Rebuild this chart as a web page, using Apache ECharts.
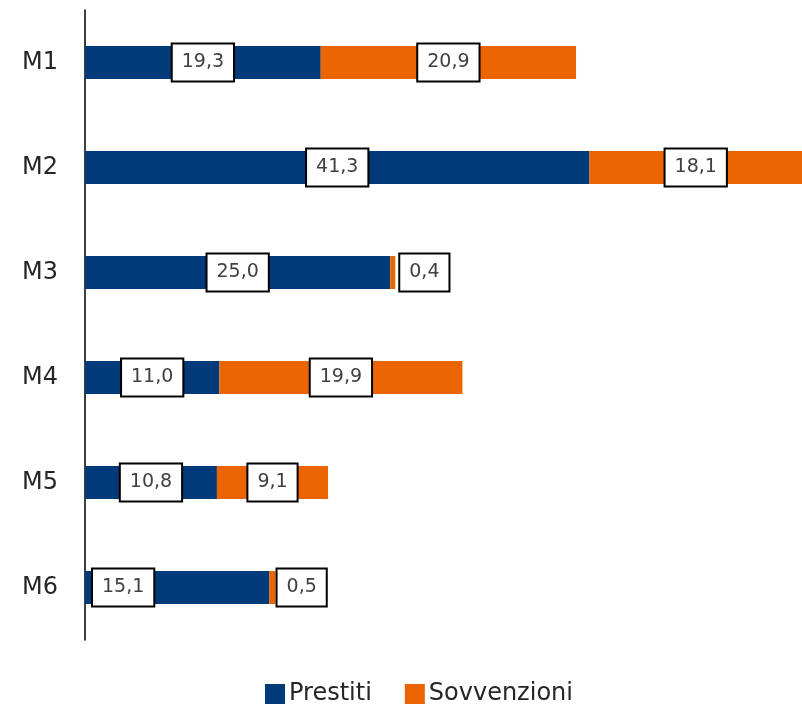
<!DOCTYPE html>
<html>
<head>
<meta charset="utf-8">
<script src="https://cdn.jsdelivr.net/npm/echarts@6/dist/echarts.min.js"></script>
<style>
  html, body { margin: 0; padding: 0; background: #fff; }
  #chart { width: 802px; height: 705px; }
</style>
</head>
<body>
<div id="chart"></div>
<script>
// Misure M1–M6: ripartizione tra prestiti e sovvenzioni
var categories = ['M1', 'M2', 'M3', 'M4', 'M5', 'M6'];
var prestiti = [19.3, 41.3, 25.0, 11.0, 10.8, 15.1];
var sovvenzioni = [20.9, 18.1, 0.4, 19.9, 9.1, 0.5];
var seriesNames = ['Prestiti', 'Sovvenzioni'];

var FONT = '"DejaVu Sans", "Noto Sans", sans-serif';
var BLUE = '#003A78';
var ORANGE = '#EA6400';

function fmt(v) { return v.toFixed(1).replace('.', ','); }

var boxLabel = {
  show: true,
  position: 'inside',
  color: '#404040',
  fontFamily: FONT,
  fontSize: 19,
  lineHeight: 24,
  backgroundColor: '#fff',
  borderColor: '#000',
  borderWidth: 2,
  padding: [6, 9],
  formatter: function (p) { return fmt(p.value); }
};

// Small slices get their label outside the bar; M6 loans label sits near the axis
function prestitiData() {
  return prestiti.map(function (v, i) {
    var item = { value: v };
    if (categories[i] === 'M6') {
      item.label = { position: 'insideLeft', distance: 8 };
    }
    return item;
  });
}
function sovvenzioniData() {
  return sovvenzioni.map(function (v, i) {
    var item = { value: v };
    if (v < 2) {
      item.label = { position: 'right', distance: categories[i] === 'M3' ? 5 : 2 };
    }
    return item;
  });
}

var chart = echarts.init(document.getElementById('chart'), null, { renderer: 'canvas' });
chart.setOption({
  animation: false,
  // the value scale ends at the right edge, so the longest bar is cut there
  grid: { left: 85, right: 0, top: 10, height: 630, containLabel: false },
  legend: {
    data: seriesNames,
    top: 677,
    left: 260,
    icon: 'rect',
    itemWidth: 20,
    itemHeight: 20,
    itemGap: 33,
    textStyle: { fontFamily: FONT, fontSize: 24, color: '#262626', padding: [0, 0, 0, -1] }
  },
  xAxis: {
    type: 'value',
    min: 0,
    max: 58.7,
    show: false
  },
  yAxis: {
    type: 'category',
    data: categories,
    inverse: true,
    axisLine: { show: true, lineStyle: { color: '#000', width: 1.5 } },
    axisTick: { show: false },
    axisLabel: { fontFamily: FONT, fontSize: 24, color: '#262626', margin: 27 },
    splitLine: { show: false }
  },
  series: [
    {
      name: seriesNames[0],
      type: 'bar',
      stack: 'tot',
      barWidth: 33,
      itemStyle: { color: BLUE },
      label: boxLabel,
      data: prestitiData()
    },
    {
      name: seriesNames[1],
      type: 'bar',
      stack: 'tot',
      barWidth: 33,
      itemStyle: { color: ORANGE },
      label: boxLabel,
      data: sovvenzioniData()
    }
  ]
});
</script>
</body>
</html>
